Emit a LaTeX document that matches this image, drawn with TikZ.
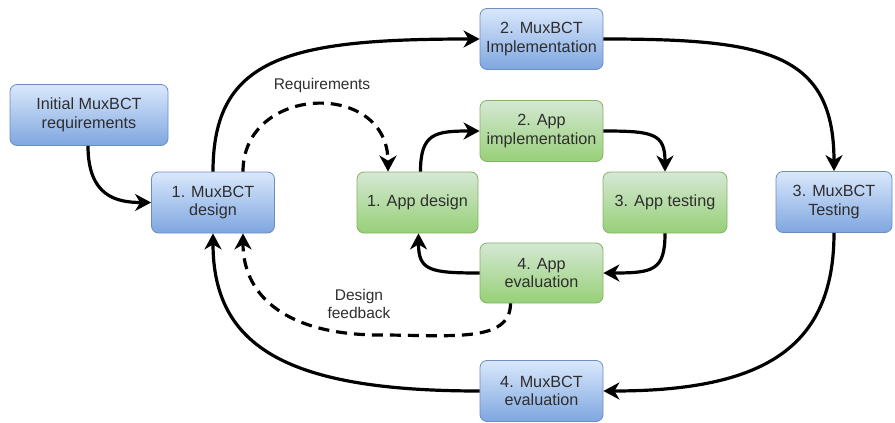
\documentclass[tikz,border=0pt]{standalone}
\usepackage{fontspec}
\setmainfont{Liberation Sans}
\usetikzlibrary{arrows.meta}
\definecolor{blueTop}{HTML}{DAE8FC}
\definecolor{blueBot}{HTML}{7EA6E0}
\definecolor{blueLine}{HTML}{6C8EBF}
\definecolor{greenTop}{HTML}{D5E8D4}
\definecolor{greenBot}{HTML}{97D077}
\definecolor{greenLine}{HTML}{82B366}
\definecolor{ink}{HTML}{2E2E2E}
\begin{document}
\begin{tikzpicture}[x=1pt,y=-1pt,
  box/.style={rounded corners=7pt, line width=0.8pt, minimum width=123pt,
    minimum height=61pt, align=center, text=ink,
    font=\fontsize{16.2}{18.5}\selectfont, inner sep=2pt},
  bluebox/.style={box, draw=blueLine, top color=blueTop, bottom color=blueBot},
  greenbox/.style={box, draw=greenLine, top color=greenTop, bottom color=greenBot},
  flow/.style={line width=3.2pt, -{Stealth[length=16pt,width=17pt,inset=5pt]}},
  feed/.style={flow, dash pattern=on 11pt off 7pt},
  lbl/.style={text=ink, align=center, font=\fontsize{15.5}{18}\selectfont}]
\useasboundingbox (0,0) rectangle (895,423);

% MuxBCT cycle
\node[bluebox, minimum width=158pt] (init) at (89,115) {Initial MuxBCT\\requirements};
\node[bluebox] (mdes) at (213,202.5) {1. MuxBCT\\design};
\node[bluebox] (mimp) at (541.5,39) {2. MuxBCT\\Implementation};
\node[bluebox, minimum width=116pt] (mtst) at (834,202) {3. MuxBCT\\Testing};
\node[bluebox] (meva) at (541.5,391) {4. MuxBCT\\evaluation};

% App cycle
\node[greenbox, minimum width=121pt] (ades) at (417.5,202.5) {1. App design};
\node[greenbox] (aimp) at (541.5,131) {2. App\\implementation};
\node[greenbox, minimum width=124pt] (atst) at (665,202.5) {3. App testing};
\node[greenbox, minimum height=60pt] (aeva) at (541.5,273) {4. App\\evaluation};

% connector anchors
\coordinate (initS) at ([xshift=-1pt]init.south);
\coordinate (mdesN1) at (mdes.north);
\coordinate (mdesN2) at ([xshift=30pt]mdes.north);
\coordinate (mdesS1) at (mdes.south);
\coordinate (mdesS2) at ([xshift=30pt]mdes.south);
\coordinate (adesN) at ([xshift=3pt]ades.north);
\coordinate (adesN2) at ([xshift=-29.5pt]ades.north);
\coordinate (adesS) at ([xshift=1pt]ades.south);
\coordinate (aevaS) at ([xshift=-31pt]aeva.south);

% MuxBCT loop
\draw[flow] (initS) .. controls ++(0,50) and ++(-35,0) .. (mdes.west);
\draw[flow] (mdesN1) .. controls ++(0,-115) and ++(-190,0) .. (mimp.west);
\draw[flow] (mimp.east) .. controls ++(160,0) and ++(0,-120) .. (mtst.north);
\draw[flow] (mtst.south) .. controls ++(0,115) and ++(160,0) .. (meva.east);
\draw[flow] (meva.west) .. controls ++(-190,0) and ++(0,115) .. (mdesS1);

% App loop
\draw[flow] (adesN) .. controls ++(0,-38) and ++(-45,0) .. (aimp.west);
\draw[flow] (aimp.east) .. controls ++(50,0) and ++(0,-38) .. (atst.north);
\draw[flow] (atst.south) .. controls ++(0,37) and ++(50,0) .. (aeva.east);
\draw[flow] (aeva.west) .. controls ++(-50,0) and ++(0,37) .. (adesS);

% requirements / feedback exchange
\draw[feed] (mdesN2) .. controls ++(0,-87) and ++(0,-92) .. (adesN2);
\draw[feed] (aevaS) .. controls ++(0,40) and ++(70,0) .. (380,335)
  .. controls ++(-90,0) and ++(0,65) .. (mdesS2);

\node[lbl] (req) at (322,85) {Requirements};
\node[lbl] (fb) at (359,304) {Design\\feedback};
\end{tikzpicture}
\end{document}
